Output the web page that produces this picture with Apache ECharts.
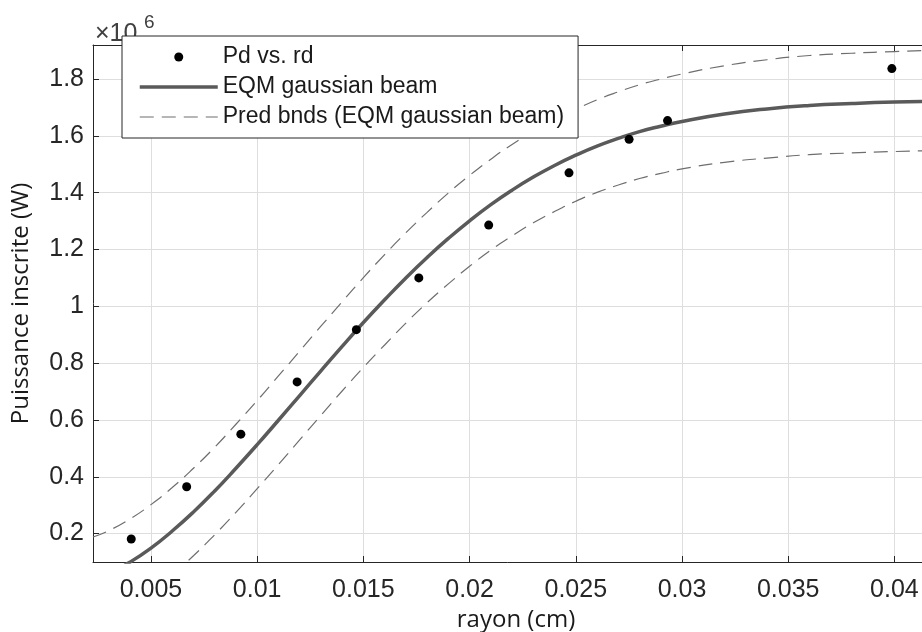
<!DOCTYPE html>
<html>
<head>
<meta charset="utf-8">
<script src="https://cdn.jsdelivr.net/npm/echarts@6/dist/echarts.min.js"></script>
<style>
html,body{margin:0;padding:0;background:#fff;}
#chart{width:922px;height:632px;}
</style>
</head>
<body>
<div id="chart"></div>
<script>
// ---- data (y in units of 1e6 W) ----
const rd = [0.00407, 0.00668, 0.00923, 0.01188, 0.01467, 0.01761, 0.02090, 0.02468, 0.02751, 0.02932, 0.03988];
const pd = [0.181, 0.365, 0.550, 0.734, 0.918, 1.100, 1.286, 1.470, 1.588, 1.654, 1.837];

const curveX = [0.00227, 0.003, 0.004, 0.005, 0.006, 0.007, 0.008, 0.009, 0.010, 0.011, 0.012, 0.013, 0.014, 0.015, 0.016, 0.017, 0.018, 0.019, 0.020, 0.021, 0.022, 0.023, 0.024, 0.025, 0.026, 0.027, 0.028, 0.029, 0.030, 0.032, 0.034, 0.036, 0.038, 0.040, 0.0421];
const fitY = [0.036, 0.058, 0.099, 0.149, 0.209, 0.276, 0.350, 0.430, 0.513, 0.599, 0.686, 0.773, 0.859, 0.943, 1.023, 1.100, 1.172, 1.239, 1.301, 1.358, 1.409, 1.455, 1.496, 1.532, 1.564, 1.591, 1.615, 1.634, 1.651, 1.677, 1.695, 1.707, 1.714, 1.719, 1.722];
const upY = [0.188, 0.210, 0.251, 0.302, 0.362, 0.430, 0.504, 0.585, 0.668, 0.755, 0.842, 0.930, 1.016, 1.101, 1.182, 1.259, 1.331, 1.399, 1.461, 1.518, 1.570, 1.616, 1.658, 1.694, 1.727, 1.755, 1.780, 1.800, 1.818, 1.847, 1.868, 1.883, 1.891, 1.897, 1.902];
const loX = [0.006, 0.007, 0.008, 0.009, 0.010, 0.011, 0.012, 0.013, 0.014, 0.015, 0.016, 0.017, 0.018, 0.019, 0.020, 0.021, 0.022, 0.023, 0.024, 0.025, 0.026, 0.027, 0.028, 0.029, 0.030, 0.032, 0.034, 0.036, 0.038, 0.040, 0.0421];
const loY = [0.055, 0.122, 0.196, 0.275, 0.358, 0.443, 0.530, 0.616, 0.702, 0.785, 0.864, 0.941, 1.013, 1.079, 1.141, 1.198, 1.248, 1.294, 1.334, 1.370, 1.401, 1.427, 1.450, 1.468, 1.484, 1.507, 1.522, 1.534, 1.540, 1.545, 1.549];

const xTicks = [0.005, 0.01, 0.015, 0.02, 0.025, 0.03, 0.035, 0.04];
const yTicks = [0.2, 0.4, 0.6, 0.8, 1, 1.2, 1.4, 1.6, 1.8];

const seriesNames = ['Pd vs. rd', 'EQM gaussian beam', 'Pred bnds (EQM gaussian beam)'];
const xName = 'rayon (cm)';
const yName = 'Puissance inscrite (W)';

const zip = (a, b) => a.map((v, i) => [v, b[i]]);
const fmt = v => String(+(+v).toFixed(4));

const axisColor = '#262626';
const gridColor = '#dedede';
const tickFont = 'Liberation Sans, Arial, sans-serif';
const hiddenDot = {color: 'rgba(0,0,0,0)', opacity: 0, borderWidth: 0};
const fitStyle = {color: '#5a5a5a', width: 3.5};
const bndStyle = {color: '#6e6e6e', width: 1.2, type: [14, 8]};

const chart = echarts.init(document.getElementById('chart'), null, {renderer: 'canvas'});
chart.setOption({
  backgroundColor: '#ffffff',
  animation: false,
  grid: {left: 93, top: 45, right: -17, bottom: 70, containLabel: false, outerBoundsMode: 'none'},
  xAxis: [{
    type: 'value', min: 0.00227, max: 0.0421, position: 'bottom',
    name: xName, nameLocation: 'middle', nameGap: 43,
    nameTextStyle: {fontFamily: 'Open Sans', fontSize: 24, color: '#1a1a1a'},
    axisLine: {show: true, onZero: false, lineStyle: {color: axisColor, width: 1}},
    axisTick: {show: true, inside: true, length: 6, customValues: xTicks, lineStyle: {color: axisColor}},
    axisLabel: {customValues: xTicks, formatter: fmt, fontFamily: tickFont, fontSize: 25, color: axisColor, margin: 16},
    splitLine: {show: true, lineStyle: {color: gridColor, width: 1}}
  }, {
    type: 'value', min: 0.00227, max: 0.0421, position: 'top',
    axisLine: {show: true, onZero: false, lineStyle: {color: axisColor, width: 1}},
    axisTick: {show: true, inside: true, length: 6, customValues: xTicks, lineStyle: {color: axisColor}},
    axisLabel: {show: false},
    splitLine: {show: false}
  }],
  yAxis: [{
    type: 'value', min: 0.1, max: 1.92, position: 'left',
    name: yName, nameLocation: 'middle', nameGap: 60, nameRotate: 90,
    nameTextStyle: {fontFamily: 'Open Sans', fontSize: 24, color: '#1a1a1a'},
    axisLine: {show: true, onZero: false, lineStyle: {color: axisColor, width: 1}},
    axisTick: {show: true, inside: true, length: 6, customValues: yTicks, lineStyle: {color: axisColor}},
    axisLabel: {customValues: yTicks, formatter: fmt, fontFamily: tickFont, fontSize: 25, color: axisColor, margin: 9},
    splitLine: {show: true, lineStyle: {color: gridColor, width: 1}}
  }],
  legend: {
    orient: 'vertical', left: 122, top: 36, z: 10,
    padding: [9, 14, 9, 16],
    itemWidth: 78, itemHeight: 9, itemGap: 6,
    backgroundColor: '#ffffff', borderColor: axisColor, borderWidth: 1,
    selectedMode: false,
    textStyle: {fontFamily: tickFont, fontSize: 23, color: '#1a1a1a', lineHeight: 24},
    data: [
      {name: seriesNames[0]},
      {name: seriesNames[1], itemStyle: hiddenDot, lineStyle: fitStyle},
      {name: seriesNames[2], itemStyle: hiddenDot, lineStyle: bndStyle}
    ]
  },
  graphic: [
    {type: 'text', left: 95, top: 22, z: 1, style: {text: '×10', fontFamily: tickFont, fontSize: 25, fill: '#404040'}},
    {type: 'text', left: 144, top: 13, z: 1, style: {text: '6', fontFamily: tickFont, fontSize: 19, fill: '#404040'}}
  ],
  series: [
    {
      name: seriesNames[0], type: 'scatter', data: zip(rd, pd),
      symbol: 'circle', symbolSize: 9, itemStyle: {color: '#000000', opacity: 1}, z: 5
    },
    {
      name: seriesNames[1], type: 'line', data: zip(curveX, fitY), smooth: true,
      symbol: 'none', lineStyle: fitStyle, itemStyle: {color: fitStyle.color}, z: 4
    },
    {
      name: seriesNames[2], type: 'line', data: zip(curveX, upY), smooth: true,
      symbol: 'none', lineStyle: bndStyle, itemStyle: {color: bndStyle.color}, z: 3
    },
    {
      name: seriesNames[2], type: 'line', data: zip(loX, loY), smooth: true,
      symbol: 'none', lineStyle: bndStyle, itemStyle: {color: bndStyle.color}, z: 3
    }
  ]
});
</script>
</body>
</html>
